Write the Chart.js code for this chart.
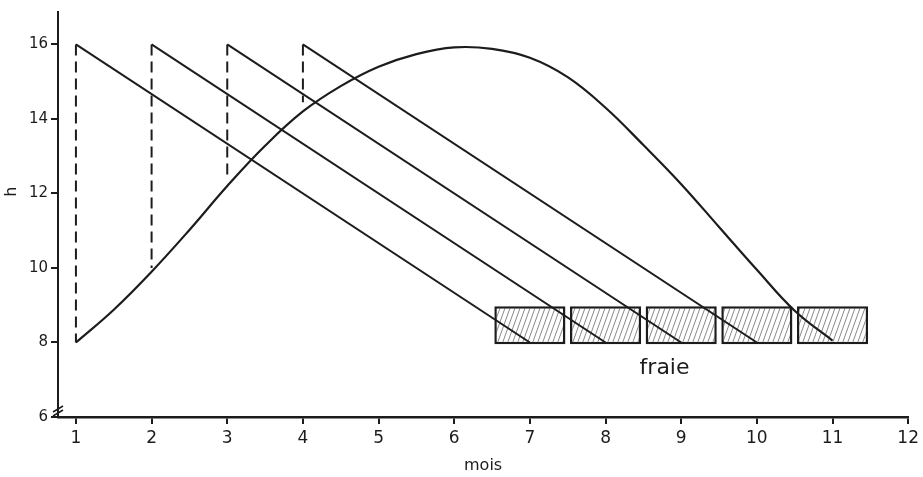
<!DOCTYPE html>
<html>
<head>
<meta charset="utf-8">
<script src="https://cdn.jsdelivr.net/npm/chart.js@4.4.1/dist/chart.umd.min.js"></script>
<style>
  html, body { margin: 0; padding: 0; background: #fff; }
  #wrap { width: 923px; height: 477px; }
</style>
</head>
<body>
<div id="wrap"><canvas id="graphique" width="923" height="477"></canvas></div>
<script>
// courbe de la photopériode (heures de jour selon le mois)
const moisCourbe = [1, 1.5, 2, 2.5, 3, 3.5, 4, 4.5, 5, 5.5, 6, 6.5, 7, 7.5, 8, 8.5, 9, 9.5, 10, 10.5, 11];
const heuresCourbe = [8.0, 8.88, 9.9, 11.02, 12.2, 13.28, 14.2, 14.88, 15.4, 15.74, 15.92, 15.88, 15.64, 15.12, 14.3, 13.3, 12.25, 11.1, 9.95, 8.85, 8.05];

// droites obliques : début (mois, 16 h) -> fin (mois, 8 h)
const debutsObliques = [1, 2, 3, 4];
const finsObliques = [7, 8, 9, 10];
const hautObliques = 16;
const basObliques = 8;

// tirets verticaux
const moisTirets = [1, 2, 3, 4];
const basTirets = [8, 10, 12.45, 14.45];
const hautTirets = 16;

// périodes de fraie (rectangles hachurés)
const moisFraie = [7, 8, 9, 10, 11];
const fraieBas = 7.95;
const fraieHaut = 8.97;

// graduations
const moisTicks = [1, 2, 3, 4, 5, 6, 7, 8, 9, 10, 11, 12];
const heuresTicks = [6, 8, 10, 12, 14, 16];

const noir = '#1c1c1c';
const police = "'DejaVu Sans', sans-serif";

// motif de hachures pour les rectangles
function motifHachures() {
    var c = document.createElement('canvas');
    c.width = 5; c.height = 14;
    var g = c.getContext('2d');
    g.fillStyle = '#ffffff';
    g.fillRect(0, 0, 5, 14);
    g.strokeStyle = '#6a6a6a';
    g.lineWidth = 0.8;
    for (var k = -1; k <= 1; k++) {
        g.beginPath();
        g.moveTo(k * 5, 14);
        g.lineTo(k * 5 + 5, 0);
        g.stroke();
    }
    return g.createPattern(c, 'repeat');
}

var datasets = [];

datasets.push({
    label: 'photopériode',
    data: moisCourbe.map((m, i) => ({x: m, y: heuresCourbe[i]})),
    borderColor: noir,
    borderWidth: 2.2,
    pointRadius: 0,
    tension: 0.4,
    fill: false,
    order: 0
});

debutsObliques.forEach(function(d, i) {
    datasets.push({
        label: 'oblique ' + d,
        data: [{x: d, y: hautObliques}, {x: finsObliques[i], y: basObliques}],
        borderColor: noir,
        borderWidth: 2,
        pointRadius: 0,
        tension: 0,
        order: 0
    });
});

moisTirets.forEach(function(m, i) {
    datasets.push({
        label: 'tirets ' + m,
        data: [{x: m, y: hautTirets}, {x: m, y: basTirets[i]}],
        borderColor: noir,
        borderWidth: 2,
        borderDash: [11, 6],
        pointRadius: 0,
        order: 0
    });
});

datasets.push({
    type: 'bar',
    label: 'fraie',
    data: moisFraie.map(m => ({x: m, y: [fraieBas, fraieHaut]})),
    backgroundColor: motifHachures(),
    borderColor: noir,
    borderWidth: 2.5,
    borderSkipped: false,
    categoryPercentage: 0.94,
    barPercentage: 1,
    grouped: false,
    order: 1
});

// texte "fraie", titre "h" et coupure de l'axe
var annotations = {
    id: 'annotations',
    afterDraw: function(chart) {
        var ctx = chart.ctx;
        var x = chart.scales.x, y = chart.scales.y;
        ctx.save();
        ctx.fillStyle = noir;
        ctx.font = '22px ' + police;
        ctx.textAlign = 'center';
        ctx.textBaseline = 'middle';
        ctx.fillText('fraie', x.getPixelForValue(8.78), y.getPixelForValue(7.3));
        // titre de l'axe vertical
        ctx.save();
        ctx.translate(12, y.getPixelForValue(12.05));
        ctx.rotate(-Math.PI / 2);
        ctx.font = '16px ' + police;
        ctx.fillText('h', 0, 0);
        ctx.restore();
        // coupure //
        var px = x.left, py = y.getPixelForValue(6);
        ctx.strokeStyle = noir;
        ctx.lineWidth = 1.5;
        ctx.beginPath();
        ctx.moveTo(px - 5, py - 5); ctx.lineTo(px + 5, py - 11);
        ctx.moveTo(px - 5, py - 1); ctx.lineTo(px + 5, py - 7);
        ctx.stroke();
        ctx.restore();
    }
};

new Chart(document.getElementById('graphique').getContext('2d'), {
    type: 'line',
    data: { datasets: datasets },
    options: {
        responsive: false,
        animation: false,
        devicePixelRatio: 1,
        layout: { padding: { top: 5, right: 11, left: 0, bottom: 0 } },
        plugins: { legend: { display: false }, tooltip: { enabled: false } },
        scales: {
            x: {
                type: 'linear',
                min: 0.763,
                max: 12,
                offset: false,
                afterBuildTicks: function(s) { s.ticks = moisTicks.map(v => ({value: v})); },
                afterFit: function(s) { s.height = 60; },
                grid: { offset: false, drawOnChartArea: false, drawTicks: true, tickLength: 7, color: noir, lineWidth: 2 },
                border: { color: noir, width: 2.5 },
                ticks: { color: noir, font: { family: police, size: 17 }, padding: 4, maxRotation: 0, callback: v => String(v) },
                title: { display: true, text: 'mois', color: noir, font: { family: police, size: 16 }, padding: { top: 0, bottom: 2 } }
            },
            y: {
                min: 6,
                max: 16.87,
                afterBuildTicks: function(s) { s.ticks = heuresTicks.map(v => ({value: v})); },
                afterFit: function(s) { s.width = 58; },
                grid: { drawOnChartArea: false, drawTicks: true, tickLength: 7, color: noir, lineWidth: 2 },
                border: { color: noir, width: 2 },
                ticks: { color: noir, font: { family: police, size: 15 }, padding: 3, callback: v => String(v) },
                title: { display: false }
            }
        }
    },
    plugins: [annotations]
});
</script>
</body>
</html>
